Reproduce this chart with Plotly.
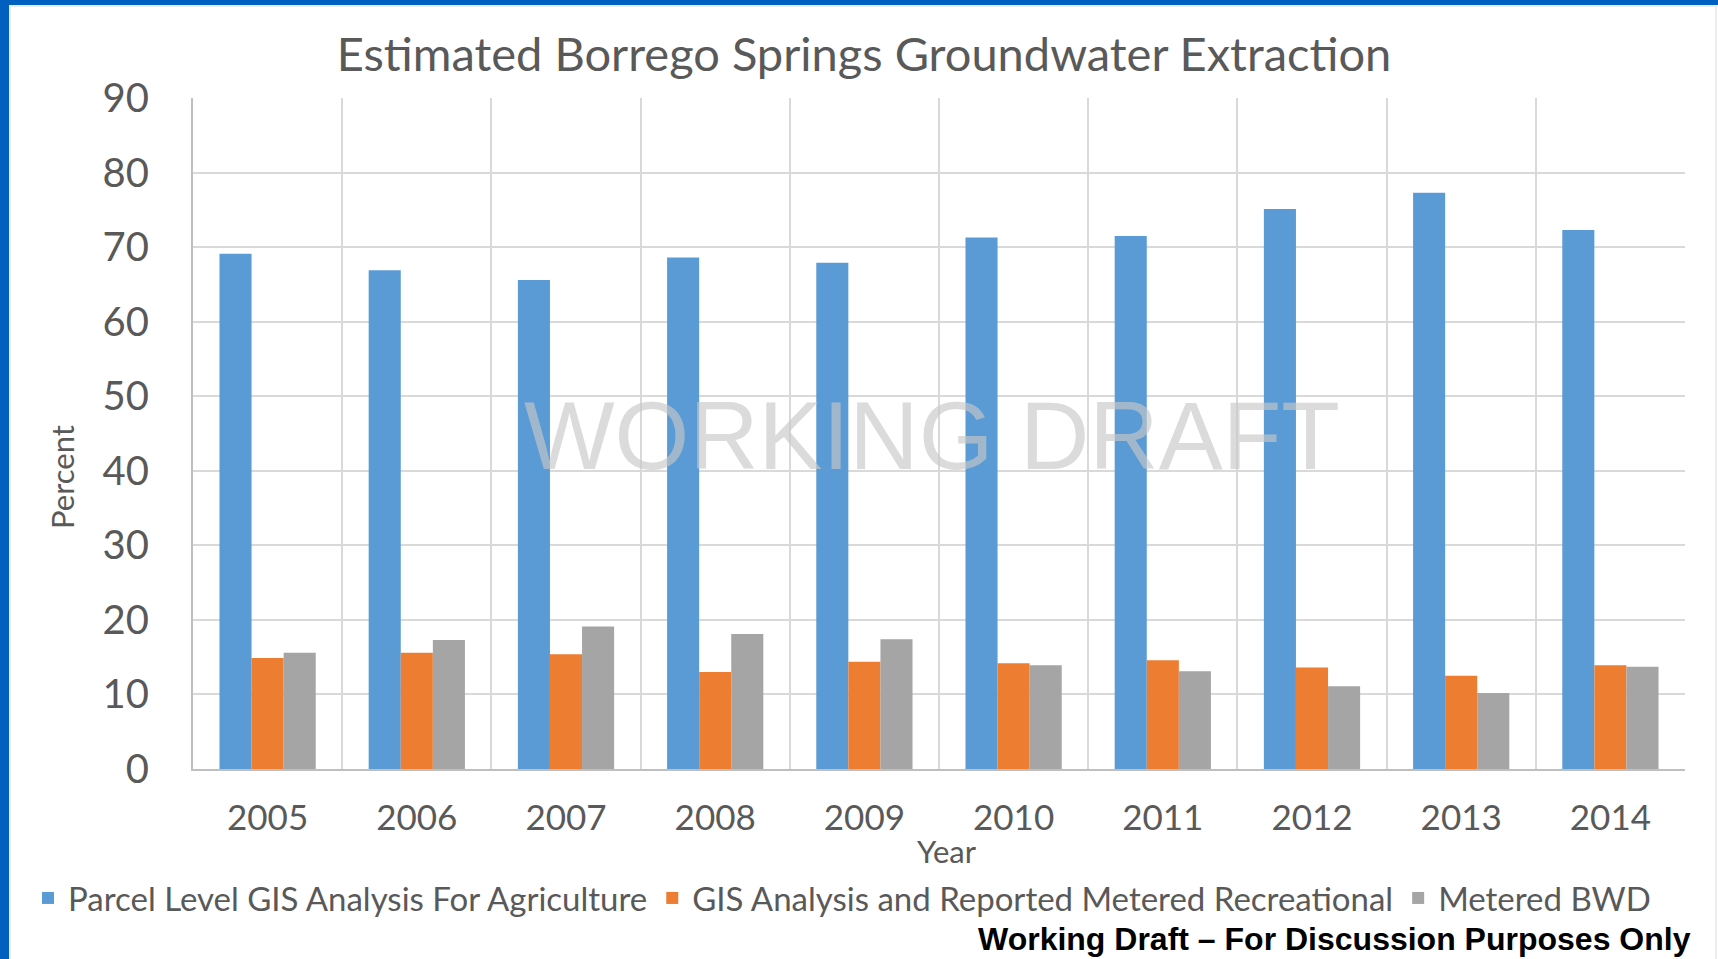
import plotly.graph_objects as go

# data
years = ["2005", "2006", "2007", "2008", "2009", "2010", "2011", "2012", "2013", "2014"]
agriculture = [69.1, 66.9, 65.6, 68.6, 67.9, 71.3, 71.5, 75.1, 77.3, 72.3]
recreational = [14.9, 15.6, 15.4, 13.0, 14.4, 14.2, 14.6, 13.6, 12.5, 13.9]
metered_bwd = [15.6, 17.3, 19.1, 18.1, 17.4, 13.9, 13.1, 11.1, 10.2, 13.7]

series_names = [
    "Parcel Level GIS Analysis For Agriculture",
    "GIS Analysis and Reported Metered Recreational",
    "Metered BWD",
]
series_colors = ["#5B9BD5", "#ED7D31", "#A5A5A5"]

W, H = 1718, 959
L, R, T, B = 193, 1685, 98, 769  # plot area in pixels


def px(x):
    return (x - L) / (R - L)


def py(y):
    return (B - y) / (B - T)


FONT = "Lato"
GREY = "#595959"

fig = go.Figure()
for name, vals, col in zip(series_names, [agriculture, recreational, metered_bwd], series_colors):
    fig.add_trace(go.Bar(
        x=years, y=vals, name=name,
        marker=dict(color=col, line=dict(width=0)),
    ))

fig.update_layout(
    width=W, height=H,
    margin=dict(l=L, r=W - R, t=T, b=H - B, autoexpand=False),
    paper_bgcolor="white", plot_bgcolor="white",
    barmode="group", bargap=0.355, bargroupgap=0,
    font=dict(family=FONT, color=GREY),
    title=dict(
        text="Estimated Borrego Springs Groundwater Extraction",
        x=px(864), xanchor="center", xref="paper",
        y=1 - 55 / H, yanchor="middle", yref="container",
        font=dict(size=47, color=GREY, family=FONT),
    ),
    xaxis=dict(
        type="category", tickson="boundaries",
        showgrid=True, gridcolor="#D9D9D9", gridwidth=2,
        showline=True, linecolor="#BFBFBF", linewidth=2,
        ticks="", tickfont=dict(size=35, color=GREY),
        ticklabelstandoff=17,
    ),
    yaxis=dict(
        range=[0, 90], dtick=10,
        showgrid=True, gridcolor="#D9D9D9", gridwidth=2,
        showline=True, linecolor="#BFBFBF", linewidth=2,
        zeroline=False,
        ticks="", tickfont=dict(size=40, color=GREY),
        ticklabelstandoff=34,
    ),
    legend=dict(
        orientation="h", x=px(28), xanchor="left",
        y=py(898), yanchor="middle",
        font=dict(size=33, color=GREY, family=FONT),
        itemwidth=30, traceorder="normal",
        bgcolor="rgba(0,0,0,0)",
    ),
    showlegend=True,
)

annotations = [
    dict(text="Year", x=px(947), y=py(851), xref="paper", yref="paper",
         showarrow=False, font=dict(size=31, color=GREY, family=FONT),
         xanchor="center", yanchor="middle"),
    dict(text="Percent", x=px(62), y=py(477), xref="paper", yref="paper",
         showarrow=False, textangle=-90, font=dict(size=31, color=GREY, family=FONT),
         xanchor="center", yanchor="middle"),
    dict(text="WORKING DRAFT", x=px(932), y=py(435), xref="paper", yref="paper",
         showarrow=False, font=dict(size=96, color="rgba(200,200,200,0.65)",
                                    family="Liberation Sans"),
         xanchor="center", yanchor="middle"),
    dict(text="<b>Working Draft – For Discussion Purposes Only</b>",
         x=px(1693), y=py(939), xref="paper", yref="paper",
         showarrow=False, font=dict(size=32, color="black", family="Liberation Sans"),
         xanchor="right", yanchor="middle"),
]
fig.update_layout(annotations=annotations)

# blue frame on top / left edges and thin grey chart border
shapes = [
    dict(type="rect", xref="paper", yref="paper", x0=px(10), x1=px(1716), y0=py(980), y1=py(6),
         line=dict(color="#D9D9D9", width=1), fillcolor="rgba(0,0,0,0)", layer="below"),
    dict(type="rect", xref="paper", yref="paper", x0=px(-5), x1=px(W + 5), y0=py(5), y1=py(-5),
         line=dict(width=0), fillcolor="#0060C0"),
    dict(type="rect", xref="paper", yref="paper", x0=px(-5), x1=px(9), y0=py(H + 5), y1=py(-5),
         line=dict(width=0), fillcolor="#0060C0"),
]
fig.update_layout(shapes=shapes)

# drop the browser's default body margin so the figure sits at the page corner
fig.write_html("out.html", config={"displayModeBar": False},
               post_script="document.body.style.margin='0';")
